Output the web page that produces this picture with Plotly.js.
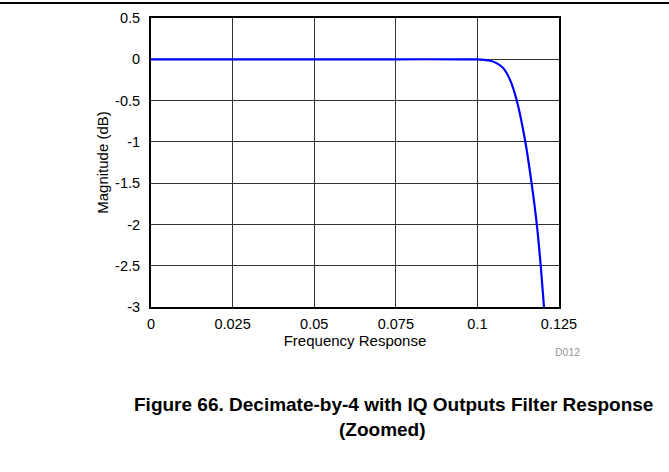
<!DOCTYPE html>
<html>
<head>
<meta charset="utf-8">
<script src="https://cdn.plot.ly/plotly-3.0.1.min.js"></script>
<style>html,body{margin:0;padding:0;background:#fff;}#chart{width:669px;height:472px;}</style>
</head>
<body>
<div id="chart"></div>
<script>
const freq = [0, 0.025, 0.05, 0.075, 0.095, 0.1, 0.102, 0.104, 0.106, 0.108, 0.110, 0.112, 0.1146, 0.1166, 0.1182, 0.1194, 0.1204];
const magDb = [0, 0, 0, 0, 0, -0.002, -0.006, -0.017, -0.05, -0.11, -0.25, -0.49, -0.98, -1.5, -2.0, -2.5, -3.0];
const xTicks = [0, 0.025, 0.05, 0.075, 0.1, 0.125];
const xTickText = ['0', '0.025', '0.05', '0.075', '0.1', '0.125'];
const yTicks = [0.5, 0, -0.5, -1, -1.5, -2, -2.5, -3];
const yTickText = ['0.5', '0', '-0.5', '-1', '-1.5', '-2', '-2.5', '-3'];

const font = 'Liberation Sans, Arial, sans-serif';
const trace = {
  x: freq, y: magDb, type: 'scatter', mode: 'lines',
  line: {color: '#0000ff', width: 2.2, shape: 'spline', smoothing: 0.8},
  hoverinfo: 'skip'
};
const layout = {
  width: 669, height: 472,
  margin: {l: 151, r: 110, t: 18, b: 165},
  paper_bgcolor: '#fff', plot_bgcolor: '#fff',
  showlegend: false,
  font: {family: font, size: 14.5, color: '#000'},
  xaxis: {
    range: [0, 0.125], tickvals: xTicks, ticktext: xTickText,
    showgrid: true, gridcolor: '#333', gridwidth: 1,
    showline: true, linecolor: '#000', linewidth: 2, mirror: true,
    zeroline: false, ticks: '', ticklen: 0, ticklabelstandoff: 3,
    tickfont: {family: font, size: 14.5},
    title: {text: 'Frequency Response', font: {family: font, size: 15}, standoff: 2}
  },
  yaxis: {
    range: [-3, 0.5], tickvals: yTicks, ticktext: yTickText,
    showgrid: true, gridcolor: '#333', gridwidth: 1,
    showline: true, linecolor: '#000', linewidth: 2, mirror: true,
    zeroline: false, ticks: '', ticklen: 0, ticklabelstandoff: 6,
    tickfont: {family: font, size: 14.5},
    title: {text: 'Magnitude (dB)', font: {family: font, size: 15}, standoff: 3}
  },
  shapes: [
    {type: 'line', xref: 'paper', yref: 'paper', x0: -151/408, x1: (669-151)/408,
     y0: 1 + 15/289, y1: 1 + 15/289, line: {color: '#000', width: 2}}
  ],
  annotations: [
    {text: 'D012', xref: 'paper', yref: 'paper', x: (582-151)/408, y: -(352-307)/289,
     xanchor: 'right', yanchor: 'middle', showarrow: false,
     font: {family: font, size: 10.5, color: '#999'}},
    {text: '<b>Figure 66. Decimate-by-4 with IQ Outputs Filter Response</b>', xref: 'paper', yref: 'paper',
     x: (655-151)/408, y: -(405-307)/289, xanchor: 'right', yanchor: 'middle', showarrow: false,
     font: {family: font, size: 19, color: '#000'}},
    {text: '<b>(Zoomed)</b>', xref: 'paper', yref: 'paper',
     x: (382-151)/408, y: -(429-307)/289, xanchor: 'center', yanchor: 'middle', showarrow: false,
     font: {family: font, size: 19, color: '#000'}}
  ]
};
Plotly.newPlot('chart', [trace], layout, {displayModeBar: false, staticPlot: true});
</script>
</body>
</html>
